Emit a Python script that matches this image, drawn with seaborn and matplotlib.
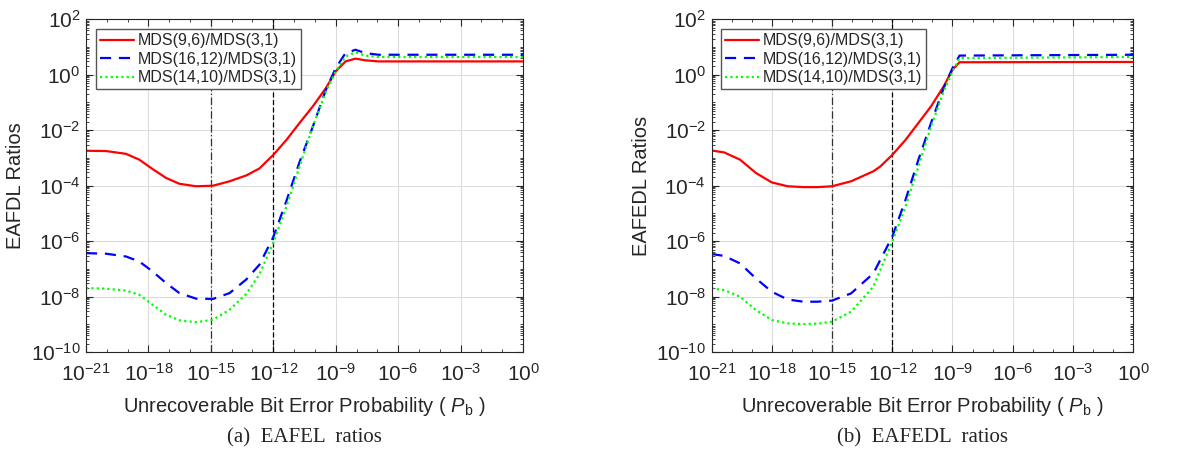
import numpy as np
import pandas as pd
import matplotlib
matplotlib.use("Agg")
import matplotlib.pyplot as plt
import seaborn as sns
from matplotlib.ticker import LogLocator, LogFormatterMathtext, NullFormatter, FixedLocator

# all values are log10 exponents
series_names = ["MDS(9,6)/MDS(3,1)", "MDS(16,12)/MDS(3,1)", "MDS(14,10)/MDS(3,1)"]

# panel (a) EAFEL
xa = [-21, -20.04, -19.08, -18.44, -17.8, -17.15, -16.51, -15.71, -14.9, -14.1, -13.3, -12.67,
      -12, -11.37, -10.74, -10.1, -9.47, -9, -8.53, -8.05, -7.58, -6.95, 0]
a_red = [-2.74, -2.75, -2.85, -3.06, -3.40, -3.72, -3.93, -4.02, -4.00, -3.84, -3.63, -3.38,
         -2.89, -2.35, -1.74, -1.14, -0.48, 0.12, 0.48, 0.58, 0.52, 0.48, 0.48]
a_blue = [-6.43, -6.45, -6.55, -6.73, -7.09, -7.51, -7.87, -8.07, -8.08, -7.87, -7.38, -6.85,
          -5.85, -4.55, -3.15, -1.87, -0.54, 0.24, 0.78, 0.90, 0.78, 0.72, 0.72]
a_green = [-7.69, -7.71, -7.78, -7.93, -8.29, -8.65, -8.85, -8.92, -8.83, -8.47, -7.90, -7.20,
           -6.05, -4.75, -3.31, -1.87, -0.60, 0.12, 0.66, 0.81, 0.69, 0.64, 0.64]

# panel (b) EAFEDL
xb = [-21, -20.37, -19.58, -18.79, -18, -17.21, -16.42, -15.71, -15, -14.05, -12.94, -12.6,
      -12, -11.34, -10.7, -10.07, -9.44, -9, -8.65, 0]
b_red = [-2.73, -2.80, -3.06, -3.54, -3.88, -4.02, -4.05, -4.05, -4.02, -3.84, -3.48, -3.31,
         -2.89, -2.35, -1.74, -1.14, -0.42, 0.18, 0.45, 0.46]
b_blue = [-6.46, -6.53, -6.80, -7.34, -7.82, -8.10, -8.18, -8.18, -8.14, -7.88, -7.16, -6.68,
          -5.84, -4.51, -3.07, -1.74, -0.48, 0.24, 0.69, 0.72]
b_green = [-7.70, -7.76, -8.00, -8.48, -8.84, -8.96, -8.99, -8.97, -8.90, -8.54, -7.64, -7.04,
           -6.02, -4.75, -3.31, -1.87, -0.60, 0.12, 0.60, 0.64]

ylabels = ["EAFDL Ratios", "EAFEDL Ratios"]
captions = ["(a)  EAFEL  ratios", "(b)  EAFEDL  ratios"]


def make_df(x, ys):
    rows = []
    for name, y in zip(series_names, ys):
        for xi, yi in zip(x, y):
            rows.append({"Pb": 10.0 ** xi, "ratio": 10.0 ** yi, "series": name})
    return pd.DataFrame(rows)


sns.set_style("white")
plt.rcParams["font.family"] = ["Liberation Sans", "DejaVu Sans"]
plt.rcParams["mathtext.fontset"] = "custom"
plt.rcParams["mathtext.rm"] = "Liberation Sans"
plt.rcParams["mathtext.it"] = "Liberation Sans:italic"
plt.rcParams["axes.unicode_minus"] = False

fig = plt.figure(figsize=(11.78, 4.58), dpi=100)
positions = [[0.073, 0.231, 0.371, 0.727], [0.604, 0.231, 0.358, 0.727]]
data = [make_df(xa, [a_red, a_blue, a_green]), make_df(xb, [b_red, b_blue, b_green])]
palette = {series_names[0]: "#ff0000", series_names[1]: "#0000ff", series_names[2]: "#00ff00"}
dash_styles = {series_names[0]: "-", series_names[1]: (0, (5, 3.5)), series_names[2]: (0, (1, 1.4))}

for i in range(2):
    ax = fig.add_axes(positions[i])
    ax.set_xscale("log")
    ax.set_yscale("log")
    df = data[i]
    for name in series_names:
        sub = df[df.series == name]
        sns.lineplot(data=sub, x="Pb", y="ratio", ax=ax, color=palette[name],
                     linestyle=dash_styles[name], linewidth=1.6, label=name, sort=False)
    ax.axvline(1e-15, color="#333333", linestyle=(0, (6, 2, 1, 2)), linewidth=0.9, zorder=1)
    ax.axvline(1e-12, color="black", linestyle=(0, (4, 2)), linewidth=0.9, zorder=1)

    ax.set_xlim(1e-21, 1)
    ax.set_ylim(1e-10, 1e2)
    ax.xaxis.set_major_locator(FixedLocator([10.0 ** k for k in range(-21, 1, 3)]))
    ax.xaxis.set_major_formatter(LogFormatterMathtext())
    ax.xaxis.set_minor_locator(FixedLocator([10.0 ** k for k in range(-21, 1)]))
    ax.xaxis.set_minor_formatter(NullFormatter())
    ax.yaxis.set_major_locator(FixedLocator([10.0 ** k for k in range(-10, 3, 2)]))
    ax.yaxis.set_major_formatter(LogFormatterMathtext())
    ax.yaxis.set_minor_locator(LogLocator(base=10, subs=np.arange(1, 10), numticks=40))
    ax.yaxis.set_minor_formatter(NullFormatter())
    ax.tick_params(which="both", direction="in", top=True, right=True, bottom=True, left=True,
                   colors="#262626", labelcolor="#262626")
    ax.tick_params(which="major", length=5, labelsize=15)
    ax.tick_params(axis="x", which="major", pad=8)
    ax.tick_params(axis="y", which="major", pad=4)
    ax.tick_params(which="minor", length=2.5, width=0.6)
    ax.grid(True, which="major", color="#dcdcdc", linewidth=0.8)
    for sp in ax.spines.values():
        sp.set_color("#262626")
        sp.set_linewidth(0.8)

    ax.set_xlabel("Unrecoverable Bit Error Probability ( $\\mathit{P}_\\mathrm{b}$ )",
                  fontsize=14.5, color="#262626", labelpad=7)
    ax.set_ylabel(ylabels[i], fontsize=14.5, color="#262626", labelpad=4)

    leg = ax.legend(loc="upper left", fontsize=11.5, frameon=True, fancybox=False,
                    handlelength=2.1, handletextpad=0.25, borderpad=0.25,
                    labelspacing=0.22, bbox_to_anchor=(0.023, 0.97), borderaxespad=0)
    leg.get_frame().set_edgecolor("#555555")
    leg.get_frame().set_linewidth(1.0)
    leg.get_frame().set_alpha(1.0)

    cx = positions[i][0] + positions[i][2] / 2
    fig.text(cx, 0.045, captions[i], ha="center", va="center", fontsize=15,
             family="Liberation Serif")

fig.savefig("out.png", dpi=100)
